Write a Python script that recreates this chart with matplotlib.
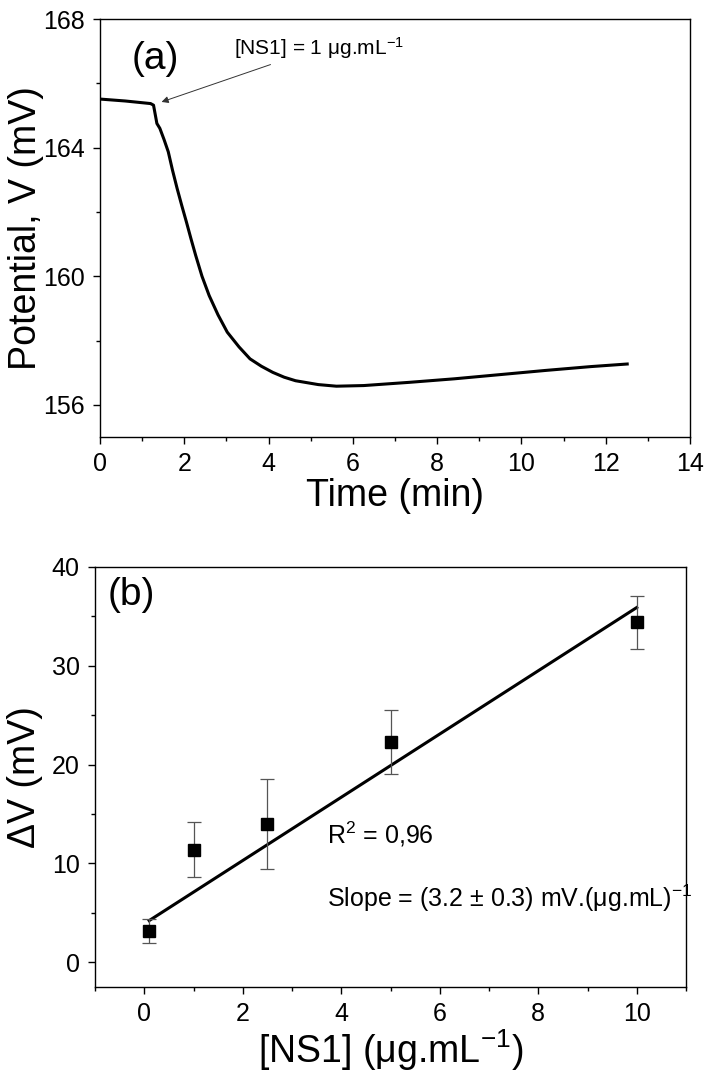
import numpy as np
import matplotlib
matplotlib.use('Agg')
import matplotlib.pyplot as plt
from matplotlib.ticker import MultipleLocator

# panel (a): potential vs time
time_min = [0.0, 0.6, 1.2, 1.27, 1.35, 1.42, 1.52, 1.62, 1.72, 1.83, 1.94, 2.05, 2.16,
            2.27, 2.42, 2.59, 2.8, 3.02, 3.3, 3.56, 3.83, 4.10, 4.37, 4.64, 5.18, 5.61,
            6.26, 7.34, 8.41, 9.49, 10.57, 11.65, 12.51]
potential_mv = [165.51, 165.45, 165.37, 165.32, 164.75, 164.6, 164.25, 163.87, 163.3, 162.73,
                162.2, 161.69, 161.16, 160.65, 160.0, 159.40, 158.8, 158.26, 157.8, 157.43,
                157.2, 157.01, 156.86, 156.75, 156.63, 156.58, 156.60, 156.70, 156.81,
                156.94, 157.07, 157.19, 157.27]

# panel (b): calibration
conc = [0.1, 1, 2.5, 5, 10]
delta_v = [3.2, 11.4, 14.0, 22.3, 34.4]
delta_v_err = [1.2, 2.75, 4.55, 3.2, 2.7]
fit_slope = 3.2
fit_intercept = 3.9

plt.rcParams['font.family'] = ['Liberation Sans', 'DejaVu Sans']
plt.rcParams['mathtext.fontset'] = 'custom'
plt.rcParams['mathtext.rm'] = 'Liberation Sans'
plt.rcParams['mathtext.it'] = 'Liberation Sans'

fig = plt.figure(figsize=(7.1, 10.79), dpi=100)
ax1 = fig.add_axes([100/710, 1-437/1079, 590/710, 418/1079])
ax2 = fig.add_axes([95/710, 1-987/1079, 591/710, 420/1079])

def style(ax):
    for s in ax.spines.values():
        s.set_linewidth(1.0)
    ax.tick_params(which='major', direction='out', length=5, width=1.0,
                   labelsize=18, top=False, right=False, pad=6)
    ax.tick_params(which='minor', direction='out', length=3, width=1.0,
                   top=False, right=False)

ax1.plot(time_min, potential_mv, color='black', lw=2.2)
ax1.set_xlim(0, 14)
ax1.set_ylim(155, 168)
ax1.xaxis.set_major_locator(MultipleLocator(2))
ax1.xaxis.set_minor_locator(MultipleLocator(1))
ax1.yaxis.set_major_locator(MultipleLocator(4))
ax1.yaxis.set_minor_locator(MultipleLocator(2))
style(ax1)
ax1.set_xlabel('Time (min)', fontsize=27, labelpad=1)
ax1.set_ylabel('Potential, V (mV)', fontsize=27)
ax1.yaxis.set_label_coords(-0.095, 0.5)
ax1.text(0.75, 166.75, '(a)', fontsize=28, va='center')
ax1.annotate('[NS1] = 1 \u03bcg.mL$^{-1}$', xy=(1.46, 165.42), xytext=(3.18, 167.1),
             fontsize=15, va='center', ha='left',
             arrowprops=dict(arrowstyle='-|>', color='#333333', lw=0.7,
                             shrinkA=2, shrinkB=0, mutation_scale=10))

xs = np.array([conc[0], conc[-1]])
ax2.errorbar(conc, delta_v, yerr=delta_v_err, fmt='s', color='black', ms=9,
             ecolor='#555555', elinewidth=0.9, capsize=5, capthick=0.9, zorder=3)
ax2.plot(xs, fit_slope * xs + fit_intercept, color='black', lw=2.2)
ax2.set_xlim(-1, 11)
ax2.set_ylim(-2.5, 40)
ax2.xaxis.set_major_locator(MultipleLocator(2))
ax2.xaxis.set_minor_locator(MultipleLocator(1))
ax2.yaxis.set_major_locator(MultipleLocator(10))
ax2.yaxis.set_minor_locator(MultipleLocator(5))
style(ax2)
ax2.set_xlabel('[NS1] (\u03bcg.mL$^{-1}$)', fontsize=27, labelpad=1)
ax2.set_ylabel('\u0394V (mV)', fontsize=27)
ax2.yaxis.set_label_coords(-0.088, 0.5)
ax2.text(-0.75, 37.2, '(b)', fontsize=28, va='center')
ax2.text(3.72, 13.0, 'R$^2$ = 0,96', fontsize=18, va='center')
ax2.text(3.72, 6.5, 'Slope = (3.2 \u00b1 0.3) mV.(\u03bcg.mL)$^{-1}$', fontsize=18, va='center')

fig.savefig('out.png', dpi=100)
